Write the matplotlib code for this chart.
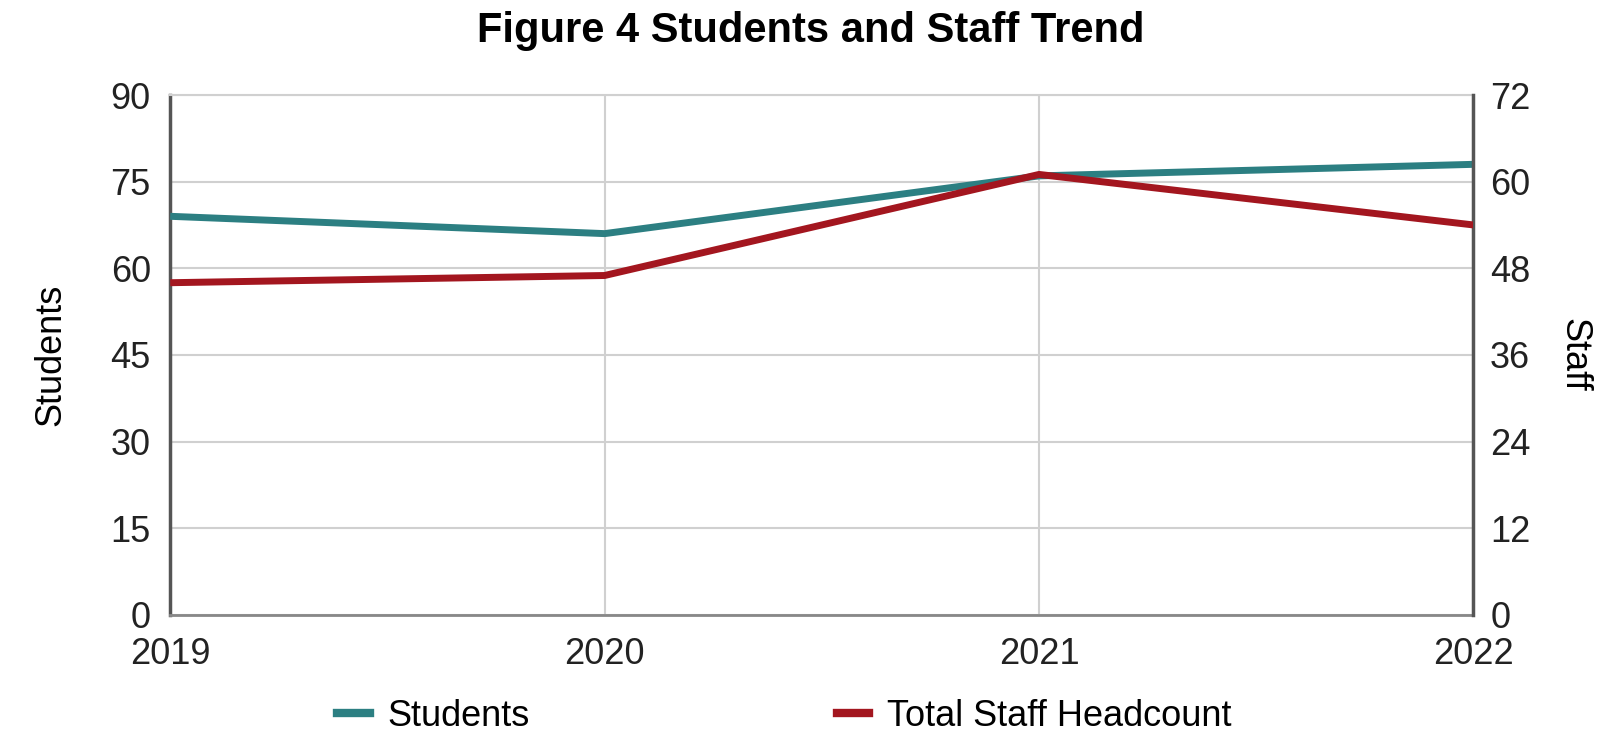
import matplotlib
matplotlib.use("Agg")
import matplotlib.pyplot as plt
from matplotlib.lines import Line2D

years = ["2019", "2020", "2021", "2022"]
students = [69, 66, 76, 78]
staff = [46, 47, 61, 54]
student_ticks = [0, 15, 30, 45, 60, 75, 90]
staff_ticks = [0, 12, 24, 36, 48, 60, 72]

plt.rcParams['font.family'] = ['Liberation Sans', 'DejaVu Sans']
teal = "#2C7F82"
red = "#A3161F"
grid_c = "#D0D0D0"
axis_c = "#555555"
fs = 26

fig = plt.figure(figsize=(16.21, 7.31), dpi=100)
ax = fig.add_axes([0.105, 0.159, 0.804, 0.711])
x = list(range(len(years)))
ax.plot(x, students, color=teal, lw=5, solid_capstyle='butt', zorder=3)
ax.set_xlim(0, 3)
ax.set_ylim(0, 90)
ax.set_yticks(student_ticks)
ax.set_xticks(x)
ax.set_xticklabels(years)
ax.grid(True, color=grid_c, lw=1.5)
ax.set_axisbelow(True)
ax.tick_params(length=0, labelsize=fs, colors="#222222", pad=14)
ax.tick_params(axis='x', pad=16)
ax.spines['top'].set_color(grid_c)
ax.spines['top'].set_linewidth(1.5)
ax.spines['left'].set_color(axis_c)
ax.spines['left'].set_linewidth(2.5)
ax.spines['bottom'].set_color("#888888")
ax.spines['bottom'].set_linewidth(2)
ax.spines['right'].set_visible(False)
ax.set_ylabel("Students", fontsize=fs, labelpad=30)

ax2 = ax.twinx()
ax2.plot(x, staff, color=red, lw=5, solid_capstyle='butt', zorder=3)
ax2.set_ylim(0, 72)
ax2.set_yticks(staff_ticks)
ax2.tick_params(length=0, labelsize=fs, colors="#222222", pad=12)
for s in ['top', 'left', 'bottom']:
    ax2.spines[s].set_visible(False)
ax2.spines['right'].set_color(axis_c)
ax2.spines['right'].set_linewidth(2.5)
ax2.set_ylabel("Staff", fontsize=fs, rotation=270, labelpad=44)

fig.suptitle("Figure 4 Students and Staff Trend", fontsize=30, fontweight='bold', y=0.985)

handles = [Line2D([], [], color=teal, lw=6), Line2D([], [], color=red, lw=6)]
fig.legend(handles, ["Students", "Total Staff Headcount"], loc='lower center',
           bbox_to_anchor=(0.484, -0.048), ncol=2, frameon=False, fontsize=fs,
           handlelength=0.9, handletextpad=0.5, columnspacing=8.5)

fig.savefig("out.png", dpi=100)
